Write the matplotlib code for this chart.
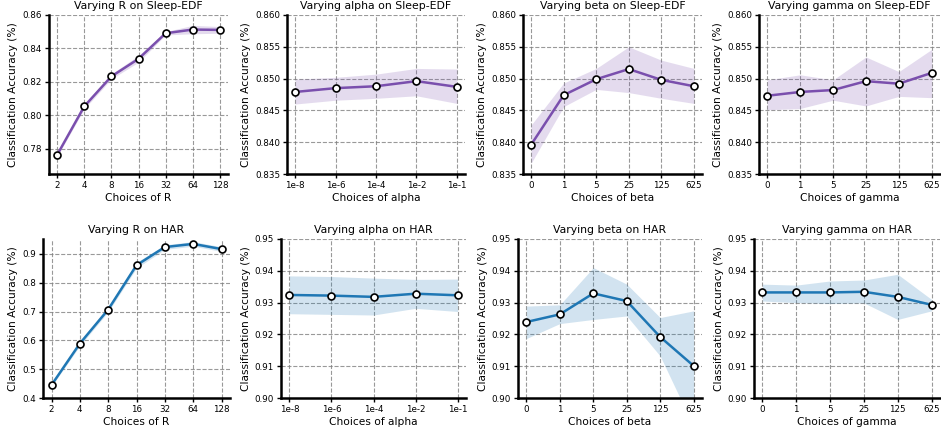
import numpy as np
import matplotlib
matplotlib.use("Agg")
import matplotlib.pyplot as plt

# x tick labels
r_labels = ["2", "4", "8", "16", "32", "64", "128"]
alpha_labels = ["1e-8", "1e-6", "1e-4", "1e-2", "1e-1"]
beta_labels = ["0", "1", "5", "25", "125", "625"]
gamma_labels = ["0", "1", "5", "25", "125", "625"]

# Sleep-EDF (mean, lower, upper)
sleep_r = [0.7764, 0.8054, 0.8233, 0.8338, 0.8491, 0.8513, 0.8511]
sleep_r_lo = [0.7754, 0.8039, 0.8218, 0.8318, 0.8481, 0.8488, 0.8491]
sleep_r_hi = [0.7774, 0.8069, 0.8248, 0.8358, 0.8501, 0.8538, 0.8531]

sleep_alpha = [0.8479, 0.8485, 0.8488, 0.8496, 0.8487]
sleep_alpha_lo = [0.8460, 0.8466, 0.8469, 0.8473, 0.8461]
sleep_alpha_hi = [0.8499, 0.8502, 0.8507, 0.8516, 0.8515]

sleep_beta = [0.8396, 0.8474, 0.8499, 0.8515, 0.8498, 0.8488]
sleep_beta_lo = [0.8367, 0.8456, 0.8483, 0.8478, 0.8469, 0.8461]
sleep_beta_hi = [0.8427, 0.8493, 0.8516, 0.8550, 0.8529, 0.8516]

sleep_gamma = [0.8473, 0.8479, 0.8482, 0.8496, 0.8492, 0.8509]
sleep_gamma_lo = [0.8451, 0.8453, 0.8466, 0.8457, 0.8472, 0.8470]
sleep_gamma_hi = [0.8498, 0.8506, 0.8498, 0.8534, 0.8511, 0.8546]

# HAR (mean, lower, upper)
har_r = [0.445, 0.589, 0.707, 0.861, 0.924, 0.935, 0.917]
har_r_lo = [0.440, 0.581, 0.699, 0.851, 0.916, 0.927, 0.909]
har_r_hi = [0.450, 0.597, 0.715, 0.871, 0.932, 0.943, 0.925]

har_alpha = [0.9324, 0.9322, 0.9318, 0.9328, 0.9323]
har_alpha_lo = [0.9265, 0.9263, 0.9261, 0.9282, 0.9272]
har_alpha_hi = [0.9384, 0.9382, 0.9377, 0.9373, 0.9374]

har_beta = [0.9239, 0.9263, 0.9329, 0.9305, 0.9192, 0.9101]
har_beta_lo = [0.9187, 0.9234, 0.9247, 0.9258, 0.9132, 0.8910]
har_beta_hi = [0.9289, 0.9293, 0.9410, 0.9358, 0.9253, 0.9274]

har_gamma = [0.9332, 0.9332, 0.9332, 0.9334, 0.9318, 0.9293]
har_gamma_lo = [0.9305, 0.9300, 0.9297, 0.9299, 0.9247, 0.9274]
har_gamma_hi = [0.9358, 0.9355, 0.9368, 0.9371, 0.9389, 0.9310]

purple = '#7a4fad'
blue = '#1f77b4'

fig = plt.figure(figsize=(9.41, 4.34), dpi=100)
W, H = 941.0, 434.0

panels = [
    # (x0, x1, y_top, y_bottom, labels, mean, lo, hi, color, title, xlabel, ylim, yticks, fmt)
    (49, 228, 15, 174, r_labels, sleep_r, sleep_r_lo, sleep_r_hi, purple,
     'Varying R on Sleep-EDF', 'Choices of R', (0.765, 0.86), np.arange(0.78, 0.861, 0.02), '%.2f'),
    (287, 465, 15, 174, alpha_labels, sleep_alpha, sleep_alpha_lo, sleep_alpha_hi, purple,
     'Varying alpha on Sleep-EDF', 'Choices of alpha', (0.835, 0.86), np.arange(0.835, 0.8601, 0.005), '%.3f'),
    (523, 702, 15, 174, beta_labels, sleep_beta, sleep_beta_lo, sleep_beta_hi, purple,
     'Varying beta on Sleep-EDF', 'Choices of beta', (0.835, 0.86), np.arange(0.835, 0.8601, 0.005), '%.3f'),
    (759, 940, 15, 174, gamma_labels, sleep_gamma, sleep_gamma_lo, sleep_gamma_hi, purple,
     'Varying gamma on Sleep-EDF', 'Choices of gamma', (0.835, 0.86), np.arange(0.835, 0.8601, 0.005), '%.3f'),
    (43, 230, 239, 398, r_labels, har_r, har_r_lo, har_r_hi, blue,
     'Varying R on HAR', 'Choices of R', (0.4, 0.952), np.arange(0.4, 0.901, 0.1), '%.1f'),
    (281, 466, 239, 398, alpha_labels, har_alpha, har_alpha_lo, har_alpha_hi, blue,
     'Varying alpha on HAR', 'Choices of alpha', (0.90, 0.95), np.arange(0.90, 0.9501, 0.01), '%.2f'),
    (518, 702, 239, 398, beta_labels, har_beta, har_beta_lo, har_beta_hi, blue,
     'Varying beta on HAR', 'Choices of beta', (0.90, 0.95), np.arange(0.90, 0.9501, 0.01), '%.2f'),
    (754, 940, 239, 398, gamma_labels, har_gamma, har_gamma_lo, har_gamma_hi, blue,
     'Varying gamma on HAR', 'Choices of gamma', (0.90, 0.95), np.arange(0.90, 0.9501, 0.01), '%.2f'),
]

for (x0, x1, yt, yb, labels, mean, lo, hi, color, title, xlabel, ylim, yticks, fmt) in panels:
    ax = fig.add_axes([x0 / W, 1 - yb / H, (x1 - x0) / W, (yb - yt) / H])
    x = np.arange(len(labels))
    ax.fill_between(x, lo, hi, color=color, alpha=0.2, linewidth=0, zorder=2)
    ax.plot(x, mean, color=color, linewidth=1.8, marker='o', markersize=5,
            markerfacecolor='white', markeredgecolor='black', markeredgewidth=1.2, zorder=3)
    ax.set_xticks(x)
    ax.set_xticklabels(labels)
    ax.set_ylim(*ylim)
    ax.set_yticks(yticks)
    ax.set_yticklabels([fmt % v for v in yticks])
    ax.set_title(title, fontsize=7.8, pad=4)
    ax.set_xlabel(xlabel, fontsize=7.7, labelpad=2)
    ax.set_ylabel('Classification Accuracy (%)', fontsize=7.7, labelpad=3)
    ax.tick_params(axis='both', labelsize=6.3, length=3, width=1, pad=2)
    ax.grid(True, linestyle='--', linewidth=0.8, color='gray', alpha=0.8, zorder=0)
    ax.set_axisbelow(True)
    ax.spines['top'].set_visible(False)
    ax.spines['right'].set_visible(False)
    ax.spines['left'].set_linewidth(1.8)
    ax.spines['bottom'].set_linewidth(1.8)

plt.savefig('out.png', dpi=100)
